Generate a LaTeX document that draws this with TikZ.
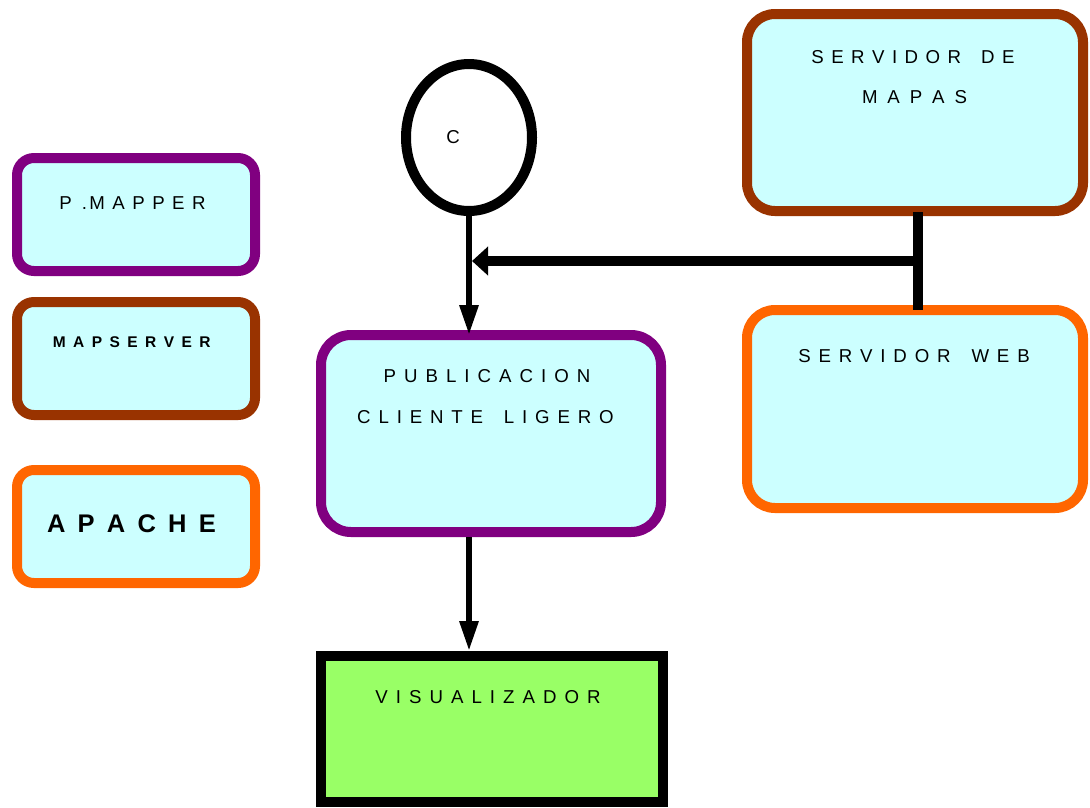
\documentclass[tikz,border=0pt]{standalone}
\usepackage{fontspec}
\setmainfont{Liberation Sans}
\usetikzlibrary{shapes.geometric,arrows.meta}

\definecolor{boxfill}{HTML}{CCFFFF}
\definecolor{plum}{HTML}{800080}
\definecolor{rust}{HTML}{993300}
\definecolor{tangerine}{HTML}{FF6600}
\definecolor{lime}{HTML}{99FF66}

% letter-spaced text: \spaced{gap}{LETTERS}, use ~ for a word space
\newdimen\lsp
\makeatletter
\def\spaced#1#2{{\lsp=#1\relax\sp@first#2\relax}}
\def\sp@first#1{#1\sp@next}
\def\sp@next#1{\ifx#1\relax\else\kern\lsp#1\expandafter\sp@next\fi}
\makeatother

\tikzset{
  rbox/.style={draw, line width=10pt, fill=boxfill, inner sep=0pt},
  lbl/.style={inner sep=0pt, font=\fontsize{18.67pt}{22pt}\selectfont},
  conn/.style={line width=6pt, -{Triangle[length=30pt,width=18pt]}},
  bus/.style={line width=10pt},
}

\begin{document}
\begin{tikzpicture}[x=1pt,y=-1pt]
\useasboundingbox (0,0) rectangle (1090,807);

% legend boxes
\node[rbox, draw=plum, rounded corners=17pt, minimum width=238pt, minimum height=113pt] (pmap) at (136,214.5) {};
\node[rbox, draw=rust, rounded corners=17pt, minimum width=238pt, minimum height=113pt] (msrv) at (136,358.5) {};
\node[rbox, draw=tangerine, rounded corners=17pt, minimum width=238pt, minimum height=113pt] (apache) at (136,526.5) {};

\node[lbl] (t-pmap) at (132.5,203.3) {P\kern10pt.\kern2.4pt\spaced{0.4em}{MAPPER}};
\node[lbl, font=\fontsize{15.5pt}{18pt}\selectfont\bfseries] (t-msrv) at (131.7,342.2) {\spaced{0.48em}{MAPSERVER}};
\node[lbl, font=\fontsize{25.5pt}{30pt}\selectfont\bfseries] (t-apache) at (131.5,524.2) {\spaced{0.48em}{APACHE}};

% servers
\node[rbox, draw=rust, rounded corners=28pt, minimum width=336pt, minimum height=197pt] (smap) at (915,112.5) {};
\node[rbox, draw=tangerine, rounded corners=28pt, minimum width=336pt, minimum height=198pt] (sweb) at (915,409) {};
\node[lbl] (t-smap1) at (913,56.7) {\spaced{0.40em}{SERVIDOR~DE}};
\node[lbl] (t-smap2) at (914.5,96.7) {\spaced{0.53em}{MAPAS}};
\node[lbl] (t-sweb) at (914,356) {\spaced{0.42em}{SERVIDOR~WEB}};

% client
\node[ellipse, draw, line width=10pt, minimum width=126pt, minimum height=147pt, inner sep=0pt] (cli) at (469,137.5) {};
\node[lbl] (t-cli) at (453,137.2) {C};

\node[rbox, draw=plum, rounded corners=30pt, minimum width=340pt, minimum height=197pt] (pub) at (491,433.5) {};
\node[lbl] (t-pub1) at (487,376.3) {\spaced{0.43em}{PUBLICACION}};
\node[lbl] (t-pub2) at (485.5,417) {\spaced{0.42em}{CLIENTE~LIGERO}};

\node[draw, line width=10pt, fill=lime, inner sep=0pt, minimum width=342pt, minimum height=146pt] (vis) at (492,729) {};
\node[lbl] (t-vis) at (488,697.5) {\spaced{0.43em}{VISUALIZADOR}};

% connectors
\coordinate (jn) at (918,261);
\coordinate (hit) at (472,261);
\draw[bus, shorten <=-4pt, shorten >=-5pt] (jn |- smap.south) -- (jn |- sweb.north);
\draw[bus, -{Triangle[length=16pt,width=28pt]}] (jn) -- (hit);
\draw[conn, shorten >=-5pt] (cli.south) -- (cli.south |- pub.north);
\draw[conn] (cli.south |- pub.south) -- (cli.south |- vis.north);
\end{tikzpicture}
\end{document}
